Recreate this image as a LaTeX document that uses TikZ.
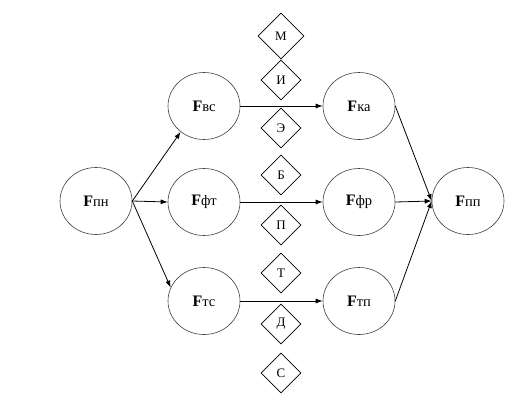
\documentclass[tikz,border=0pt]{standalone}
\usepackage{fontspec}
\setmainfont{Liberation Serif}
\usetikzlibrary{shapes.geometric,arrows.meta}
\tikzset{
  fnode/.style={ellipse,draw=black!75,line width=0.6pt,minimum width=72pt,minimum height=67pt,inner sep=0pt},
  dnode/.style={diamond,draw=black,line width=0.6pt,minimum width=40pt,minimum height=40pt,inner sep=0pt,font=\fontsize{13}{15}\selectfont},
  conn/.style={line width=0.8pt,-{Latex[length=7pt,width=5pt]}}
}
\newcommand{\fl}[1]{{\fontsize{16}{18}\selectfont\bfseries F}{\fontsize{14.5}{16}\selectfont #1}}
\begin{document}
\begin{tikzpicture}[x=1pt,y=-1pt]
\useasboundingbox (0,0) rectangle (516,408);
\node[fnode] (pn) at (96,201) {\fl{пн}};
\node[fnode] (vs) at (204,106) {\fl{вс}};
\node[fnode] (ft) at (204,202) {\fl{фт}};
\node[fnode] (ts) at (204,301) {\fl{тс}};
\node[fnode] (ka) at (359,106) {\fl{ка}};
\node[fnode] (fr) at (359,202) {\fl{фр}};
\node[fnode] (tp) at (359,301) {\fl{тп}};
\node[fnode] (pp) at (468,201) {\fl{пп}};
\node[dnode,minimum width=46pt,minimum height=46pt] (dm) at (281,36) {М};
\node[dnode] (di) at (281,80) {И};
\node[dnode] (de) at (281,128) {Э};
\node[dnode] (db) at (281,175) {Б};
\node[dnode] (dp) at (281,225) {П};
\node[dnode] (dt) at (281,273) {Т};
\node[dnode] (dd) at (281,324) {Д};
\node[dnode] (ds) at (281,373) {С};
\draw[conn] (pn.east) -- (vs.228);
\draw[conn] (pn.east) -- (ft.west);
\draw[conn] (pn.east) -- (ts.158);
\draw[conn] (vs.east) -- (ka.west);
\draw[conn] (ft.east) -- (fr.west);
\draw[conn] (ts.east) -- (tp.west);
\draw[conn] (ka.east) -- (pp.west);
\draw[conn] (fr.east) -- (pp.west);
\draw[conn] (tp.east) -- (pp.west);
\end{tikzpicture}
\end{document}
